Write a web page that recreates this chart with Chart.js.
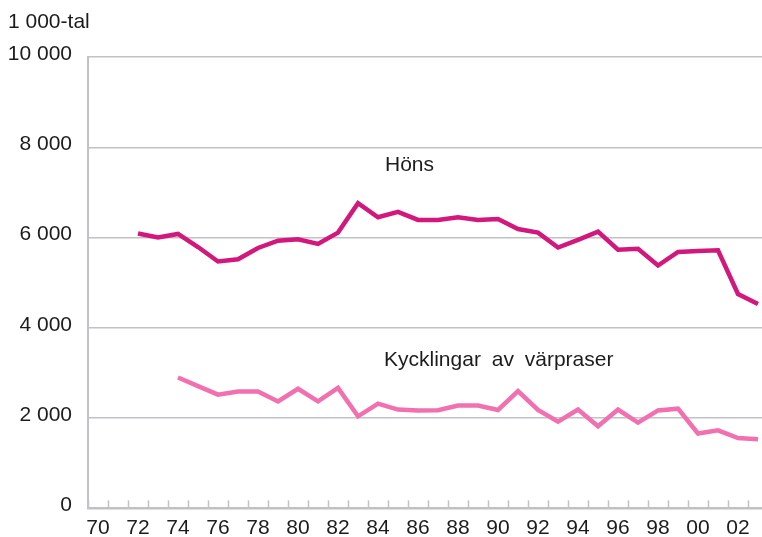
<!DOCTYPE html>
<html>
<head>
<meta charset="utf-8">
<script src="https://cdn.jsdelivr.net/npm/chart.js@4.4.1/dist/chart.umd.min.js"></script>
<style>
  html, body { margin: 0; padding: 0; background: #ffffff; }
  #wrap { position: relative; width: 762px; height: 537px; }
</style>
</head>
<body>
<div id="wrap"><canvas id="c" width="762" height="537"></canvas></div>
<script>
// ---- Data ----
const years = [1970, 1971, 1972, 1973, 1974, 1975, 1976, 1977, 1978, 1979,
               1980, 1981, 1982, 1983, 1984, 1985, 1986, 1987, 1988, 1989,
               1990, 1991, 1992, 1993, 1994, 1995, 1996, 1997, 1998, 1999,
               2000, 2001, 2002, 2003];
const hons = [null, null, 6090, 6000, 6080, 5790, 5470, 5520, 5770, 5930,
              5960, 5860, 6110, 6760, 6450, 6570, 6390, 6390, 6450, 6390,
              6410, 6190, 6110, 5780, 5950, 6130, 5730, 5750, 5380, 5680,
              5700, 5720, 4750, 4530];
const kycklingar = [null, null, null, null, 2900, 2710, 2520, 2590, 2590, 2370,
                    2650, 2370, 2670, 2040, 2320, 2190, 2170, 2175, 2280, 2280,
                    2180, 2600, 2180, 1920, 2190, 1820, 2190, 1900, 2170, 2210,
                    1660, 1730, 1560, 1530];
const xTickLabels = ['70', '72', '74', '76', '78', '80', '82', '84', '86', '88',
                     '90', '92', '94', '96', '98', '00', '02'];
const yTickValues = [0, 2000, 4000, 6000, 8000, 10000];
const yTickLabels = ['0', '2 000', '4 000', '6 000', '8 000', '10 000'];
const unitLabel = '1 000-tal';
const seriesNames = ['Höns', 'Kycklingar av värpraser'];

// ---- Styling ----
const FONT = 'Liberation Sans, Arial, sans-serif';
const FS = 21;
const GRID = '#c2c2c6';
const TXT = '#1c1c1c';

const toPoints = (vals) => years.map((y, i) => ({ x: y, y: vals[i] }));

const annotPlugin = {
  id: 'annot',
  afterDraw(chart) {
    const ctx = chart.ctx;
    const xs = chart.scales.x, ys = chart.scales.y;
    ctx.save();
    // inward tick marks on the x axis at year boundaries
    ctx.strokeStyle = GRID;
    ctx.lineWidth = 1.5;
    xs.ticks.forEach(t => {
      const px = Math.round(xs.getPixelForValue(t.value)) + 0.5;
      ctx.beginPath();
      ctx.moveTo(px, ys.bottom);
      ctx.lineTo(px, ys.bottom - 8);
      ctx.stroke();
    });
    ctx.fillStyle = TXT;
    ctx.font = FS + 'px ' + FONT;
    ctx.textBaseline = 'middle';
    ctx.textAlign = 'left';
    ctx.fillText(unitLabel, 8, 22);
    ctx.fillText(seriesNames[0], 385, 165);
    if ('wordSpacing' in ctx) ctx.wordSpacing = '5px';
    ctx.fillText(seriesNames[1], 384, 360);
    ctx.restore();
  }
};

new Chart(document.getElementById('c'), {
  type: 'line',
  data: {
    datasets: [
      {
        label: seriesNames[0],
        data: toPoints(hons),
        borderColor: '#d2187c',
        borderWidth: 4.5,
        pointRadius: 0,
        tension: 0,
        spanGaps: false
      },
      {
        label: seriesNames[1],
        data: toPoints(kycklingar),
        borderColor: '#f270b0',
        borderWidth: 4.5,
        pointRadius: 0,
        tension: 0,
        spanGaps: false
      }
    ]
  },
  options: {
    responsive: false,
    animation: false,
    devicePixelRatio: 1,
    clip: false,
    layout: { padding: { top: 57, right: 0, left: 0, bottom: 0 } },
    plugins: {
      legend: { display: false },
      tooltip: { enabled: false }
    },
    scales: {
      x: {
        type: 'linear',
        min: 1969.5,
        max: 2003.2,
        afterBuildTicks(scale) {
          const t = [];
          years.forEach(y => t.push({ value: y - 0.5 }));
          scale.ticks = t;
        },
        afterFit(scale) { scale.height = 28; },
        grid: { display: false, drawTicks: false },
        border: { display: true, color: GRID, width: 2 },
        ticks: {
          autoSkip: false,
          maxRotation: 0,
          padding: 7,
          labelOffset: 10,
          color: TXT,
          font: { family: FONT, size: FS },
          callback(value, index) {
            return index % 2 === 0 ? xTickLabels[index / 2] : '';
          }
        }
      },
      y: {
        type: 'linear',
        min: 0,
        max: 10000,
        afterBuildTicks(scale) {
          scale.ticks = yTickValues.map(v => ({ value: v }));
        },
        afterFit(scale) { scale.width = 88; },
        grid: { color: GRID, lineWidth: 1.5, drawTicks: false },
        border: { display: true, color: GRID, width: 2 },
        ticks: {
          padding: 16,
          labelOffset: -3,
          color: TXT,
          font: { family: FONT, size: FS },
          callback(value, index) { return yTickLabels[index]; }
        }
      }
    }
  },
  plugins: [annotPlugin]
});
</script>
</body>
</html>
